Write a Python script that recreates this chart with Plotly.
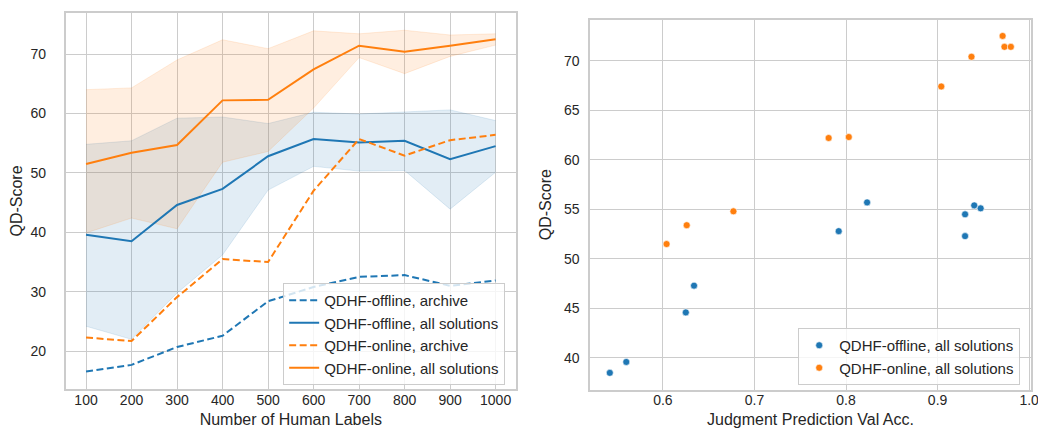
import plotly.graph_objects as go

# ---------------- data ----------------
labels = [100, 200, 300, 400, 500, 600, 700, 800, 900, 1000]

off_archive = [16.6, 17.7, 20.7, 22.6, 28.4, 30.8, 32.5, 32.8, 31.0, 31.9]
off_all = [39.6, 38.5, 44.6, 47.3, 52.8, 55.7, 55.1, 55.4, 52.3, 54.5]
off_all_hi = [54.8, 55.4, 59.2, 59.4, 58.3, 60.2, 59.9, 60.2, 60.6, 58.8]
off_all_lo = [24.2, 22.0, 29.8, 36.2, 47.1, 51.1, 50.3, 50.4, 43.9, 50.1]

on_archive = [22.3, 21.7, 29.1, 35.5, 35.0, 47.0, 55.7, 52.9, 55.5, 56.4]
on_all = [51.5, 53.4, 54.7, 62.2, 62.3, 67.4, 71.4, 70.4, 71.4, 72.5]
on_all_hi = [64.0, 64.3, 69.0, 72.4, 70.9, 73.9, 73.4, 74.0, 73.2, 73.4]
on_all_lo = [39.9, 42.4, 40.6, 51.8, 53.6, 60.9, 69.4, 66.7, 69.6, 71.5]

off_acc = [0.542, 0.560, 0.625, 0.634, 0.792, 0.823, 0.930, 0.930, 0.940, 0.947]
off_score = [38.5, 39.6, 44.6, 47.3, 52.8, 55.7, 54.5, 52.3, 55.4, 55.1]
on_acc = [0.604, 0.626, 0.677, 0.781, 0.803, 0.904, 0.937, 0.971, 0.973, 0.980]
on_score = [51.5, 53.4, 54.8, 62.2, 62.3, 67.4, 70.4, 72.5, 71.4, 71.4]

left_xticks = labels
left_yticks = [20, 30, 40, 50, 60, 70]
right_xticks = [0.6, 0.7, 0.8, 0.9, 1.0]
right_xticklabels = ["0.6", "0.7", "0.8", "0.9", "1.0"]
right_yticks = [40, 45, 50, 55, 60, 65, 70]

BLUE = "#1f77b4"
ORANGE = "#ff7f0e"
BLUE_F = "rgba(31,119,180,0.13)"
ORANGE_F = "rgba(255,127,14,0.13)"
TXT = "#262626"
GRID = "#cccccc"
FONT = "Liberation Sans, Arial, sans-serif"
DASH = "7px,3.5px"

fig = go.Figure()

def band(x, lo, hi, fill, xa, ya):
    fig.add_trace(go.Scatter(x=x, y=hi, mode="lines", line=dict(color=fill, width=1),
                             showlegend=False, hoverinfo="skip", xaxis=xa, yaxis=ya))
    fig.add_trace(go.Scatter(x=x, y=lo, mode="lines", line=dict(color=fill, width=1),
                             fill="tonexty", fillcolor=fill,
                             showlegend=False, hoverinfo="skip", xaxis=xa, yaxis=ya))

# bands
band(labels, off_all_lo, off_all_hi, BLUE_F, "x", "y")
band(labels, on_all_lo, on_all_hi, ORANGE_F, "x", "y")

# lines
fig.add_trace(go.Scatter(x=labels, y=off_archive, mode="lines", name="QDHF-offline, archive",
                         line=dict(color=BLUE, width=2, dash=DASH), legend="legend"))
fig.add_trace(go.Scatter(x=labels, y=off_all, mode="lines", name="QDHF-offline, all solutions",
                         line=dict(color=BLUE, width=2), legend="legend"))
fig.add_trace(go.Scatter(x=labels, y=on_archive, mode="lines", name="QDHF-online, archive",
                         line=dict(color=ORANGE, width=2, dash=DASH), legend="legend"))
fig.add_trace(go.Scatter(x=labels, y=on_all, mode="lines", name="QDHF-online, all solutions",
                         line=dict(color=ORANGE, width=2), legend="legend"))

# scatter
fig.add_trace(go.Scatter(x=off_acc, y=off_score, mode="markers", name="QDHF-offline, all solutions",
                         marker=dict(color=BLUE, size=7, line=dict(color="white", width=0.6)),
                         xaxis="x2", yaxis="y2", legend="legend2"))
fig.add_trace(go.Scatter(x=on_acc, y=on_score, mode="markers", name="QDHF-online, all solutions",
                         marker=dict(color=ORANGE, size=7, line=dict(color="white", width=0.6)),
                         xaxis="x2", yaxis="y2", legend="legend2"))

W, H = 1046, 432
axis_common = dict(showgrid=True, gridcolor=GRID, gridwidth=1, showline=True, linecolor=GRID,
                   linewidth=1.5, mirror=True, ticks="", zeroline=False,
                   tickfont=dict(family=FONT, size=14, color=TXT),
                   title_font=dict(family=FONT, size=16, color=TXT))

fig.update_layout(
    width=W, height=H,
    margin=dict(l=0, r=0, t=0, b=0),
    paper_bgcolor="white", plot_bgcolor="white",
    font=dict(family=FONT, size=14, color=TXT),
    hovermode=False,
    xaxis=dict(axis_common, domain=[58 / W, 512 / W], range=[55, 1045],
               tickvals=left_xticks, ticklabelstandoff=-3,
               title=dict(text="Number of Human Labels", standoff=7), anchor="y"),
    yaxis=dict(axis_common, domain=[1 - 381 / H, 1 - 5 / H], range=[13.64, 76.9],
               tickvals=left_yticks, ticklabelstandoff=15,
               title=dict(text="QD-Score", standoff=7), anchor="x"),
    xaxis2=dict(axis_common, domain=[586.7 / W, 1030.7 / W], range=[0.5206, 1.0018],
                tickvals=right_xticks, ticktext=right_xticklabels, ticklabelstandoff=-3,
                title=dict(text="Judgment Prediction Val Acc.", standoff=7), anchor="y2"),
    yaxis2=dict(axis_common, domain=[1 - 381.7 / H, 1 - 11.7 / H], range=[36.8, 74.14],
                tickvals=right_yticks, ticklabelstandoff=6,
                title=dict(text="QD-Score", standoff=8), anchor="x2"),
    legend=dict(x=501 / W, xanchor="right", y=1 - 275 / H, yanchor="top",
                bgcolor="rgba(255,255,255,0.8)", bordercolor=GRID, borderwidth=1,
                font=dict(family=FONT, size=15, color=TXT), tracegroupgap=0,
                traceorder="normal", itemwidth=30),
    legend2=dict(x=1020 / W, xanchor="right", y=1 - 320 / H, yanchor="top",
                 bgcolor="rgba(255,255,255,0.8)", bordercolor=GRID, borderwidth=1,
                 font=dict(family=FONT, size=15, color=TXT), tracegroupgap=0,
                 traceorder="normal", itemwidth=30),
)

fig.write_html("out.html")
